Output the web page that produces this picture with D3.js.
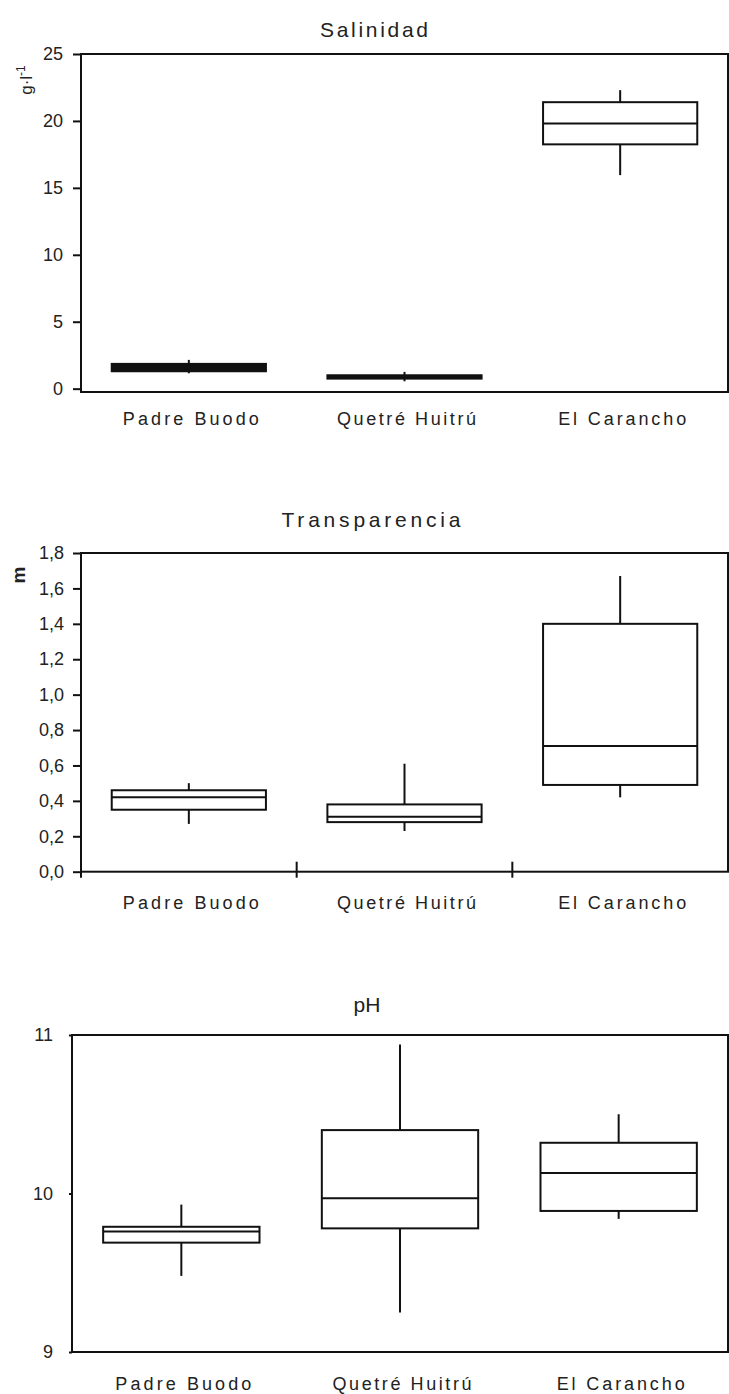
<!DOCTYPE html>
<html>
<head>
<meta charset="utf-8">
<script src="https://cdn.jsdelivr.net/npm/d3@7"></script>
<style>
    body { margin: 0; background: #fff; }
    svg { display: block; font-family: "Liberation Sans", Arial, sans-serif; }
    .frame { fill: none; stroke: #111; stroke-width: 2; }
    .box { fill: #fff; stroke: #111; stroke-width: 2; }
    .median, .whisker { stroke: #111; stroke-width: 2; }
    .y-axis text { font-size: 18px; fill: #222; }
    .y-axis line { stroke: #111; stroke-width: 2; }
    .cat-label { font-size: 18px; fill: #222; }
    .title { font-size: 21px; fill: #222; }
</style>
</head>
<body>
<div id="chart"></div>
<script>
// categories
const sites = ["Padre Buodo", "Quetré Huitrú", "El Carancho"];

// box stats per site: [min, q1, median, q3, max]
const salinidad = [
    [1.15, 1.3, 1.55, 1.85, 2.15],
    [0.55, 0.75, 0.88, 1.0, 1.25],
    [15.95, 18.25, 19.8, 21.4, 22.3]
];
const transparencia = [
    [0.27, 0.35, 0.42, 0.46, 0.50],
    [0.23, 0.28, 0.31, 0.38, 0.61],
    [0.42, 0.49, 0.71, 1.40, 1.67]
];
const ph = [
    [9.48, 9.69, 9.76, 9.79, 9.93],
    [9.25, 9.78, 9.97, 10.40, 10.94],
    [9.84, 9.89, 10.13, 10.32, 10.50]
];

// tick labels
const salinidadTicks = [0, 5, 10, 15, 20, 25];
const transparenciaTicks = [0, 0.2, 0.4, 0.6, 0.8, 1.0, 1.2, 1.4, 1.6, 1.8];
const phTicks = [9, 10, 11];

// label widths as drawn in the original (px)
const labelWidth = { "Padre Buodo": 136, "Quetré Huitrú": 139, "El Carancho": 128 };

const svg = d3.select("#chart").append("svg")
    .attr("width", 729)
    .attr("height", 1394);

class BoxPanel {
    constructor(opts) {
        Object.assign(this, opts);
        this.initVis();
    }

    initVis() {
        const vis = this;
        vis.g = svg.append("g");

        vis.x = d3.scaleBand()
            .domain(sites)
            .range([vis.left, vis.right]);

        vis.y = d3.scaleLinear()
            .domain(vis.domain)
            .range([vis.bottom, vis.top]);

        // title
        const title = vis.g.append("text")
            .attr("class", "title")
            .attr("x", vis.titleX)
            .attr("y", vis.titleY)
            .attr("text-anchor", "middle")
            .text(vis.title);
        if (vis.titleWidth) {
            title.attr("textLength", vis.titleWidth)
                .attr("lengthAdjust", "spacing");
        }

        // y axis
        const yAxis = d3.axisLeft(vis.y)
            .tickValues(vis.ticks)
            .tickSize(vis.tickSize)
            .tickPadding(vis.tickPadding)
            .tickFormat(vis.format);

        vis.g.append("g")
            .attr("class", "y-axis")
            .attr("transform", `translate(${vis.left},0)`)
            .call(yAxis)
            .call(g => g.select(".domain").remove());

        // frame
        vis.g.append("rect")
            .attr("class", "frame")
            .attr("x", vis.left)
            .attr("y", vis.top)
            .attr("width", vis.right - vis.left)
            .attr("height", vis.bottom - vis.top);

        // separator ticks on x axis (only transparencia has them)
        if (vis.separators) {
            const bounds = sites.slice(1).map(s => vis.x(s));
            vis.g.selectAll(".sep")
                .data(bounds)
                .join("line")
                .attr("class", "whisker")
                .attr("x1", d => d).attr("x2", d => d)
                .attr("y1", vis.bottom - 10)
                .attr("y2", vis.bottom + 6);
            vis.g.append("line")
                .attr("class", "whisker")
                .attr("x1", vis.left).attr("x2", vis.left)
                .attr("y1", vis.bottom).attr("y2", vis.bottom + 6);
        }

        // category labels
        vis.g.selectAll(".cat-label")
            .data(sites)
            .join("text")
            .attr("class", "cat-label")
            .attr("x", d => vis.x(d) + vis.x.bandwidth() / 2 + 2)
            .attr("y", vis.labelY)
            .attr("text-anchor", "middle")
            .attr("textLength", d => labelWidth[d])
            .attr("lengthAdjust", "spacing")
            .text(d => d);

        // y label
        if (vis.unit) {
            const t = vis.g.append("text")
                .attr("transform", `translate(${vis.unitX},${vis.unitY}) rotate(-90)`)
                .attr("text-anchor", "middle")
                .style("font-size", vis.unitSize + "px")
                .style("font-weight", vis.unitBold ? "bold" : "normal")
                .style("fill", "#222");
            vis.unit(t);
        }

        vis.updateVis();
    }

    updateVis() {
        const vis = this;
        const bw = vis.x.bandwidth() * 0.715;
        const cx = d => vis.x(d.site) + vis.x.bandwidth() / 2;
        const rows = vis.data.map((s, i) => ({
            site: sites[i], min: s[0], q1: s[1], med: s[2], q3: s[3], max: s[4]
        }));

        const boxes = vis.g.selectAll(".boxgroup")
            .data(rows)
            .join("g")
            .attr("class", "boxgroup");

        // whiskers
        boxes.append("line")
            .attr("class", "whisker")
            .attr("x1", cx).attr("x2", cx)
            .attr("y1", d => vis.y(d.max))
            .attr("y2", d => vis.y(d.q3));
        boxes.append("line")
            .attr("class", "whisker")
            .attr("x1", cx).attr("x2", cx)
            .attr("y1", d => vis.y(d.q1))
            .attr("y2", d => vis.y(d.min));

        // box - very flat boxes show up as a solid bar in the original
        boxes.append("rect")
            .attr("class", "box")
            .attr("x", d => cx(d) - bw / 2)
            .attr("y", d => vis.y(d.q3))
            .attr("width", bw)
            .attr("height", d => vis.y(d.q1) - vis.y(d.q3))
            .style("fill", d => (vis.y(d.q1) - vis.y(d.q3)) < 10 ? "#111" : "#fff");

        // median
        boxes.append("line")
            .attr("class", "median")
            .attr("x1", d => cx(d) - bw / 2)
            .attr("x2", d => cx(d) + bw / 2)
            .attr("y1", d => vis.y(d.med))
            .attr("y2", d => vis.y(d.med));
    }
}

const comma = d => d3.format(".1f")(d).replace(".", ",");

new BoxPanel({
    title: "Salinidad", titleX: 374, titleY: 37, titleWidth: 108,
    data: salinidad, ticks: salinidadTicks, domain: [-0.25, 25],
    left: 81, right: 728, top: 54, bottom: 392,
    tickSize: 8, tickPadding: 10, format: d3.format("d"),
    labelY: 425,
    unit: t => {
        t.append("tspan").text("g·l");
        t.append("tspan").attr("baseline-shift", "super").style("font-size", "12px").text("-1");
    },
    unitX: 32, unitY: 80, unitSize: 17
});

new BoxPanel({
    title: "Transparencia", titleX: 371, titleY: 527, titleWidth: 179,
    data: transparencia, ticks: transparenciaTicks, domain: [0, 1.8],
    left: 81, right: 728, top: 553, bottom: 871.7,
    tickSize: 8, tickPadding: 9, format: comma,
    labelY: 909, separators: true,
    unit: t => t.text("m"),
    unitX: 25, unitY: 575, unitSize: 19, unitBold: true
});

new BoxPanel({
    title: "pH", titleX: 367, titleY: 1012,
    data: ph, ticks: phTicks, domain: [9, 11],
    left: 72, right: 728, top: 1035, bottom: 1352,
    tickSize: 3, tickPadding: 16, format: d3.format("d"),
    labelY: 1390
});
</script>
</body>
</html>
